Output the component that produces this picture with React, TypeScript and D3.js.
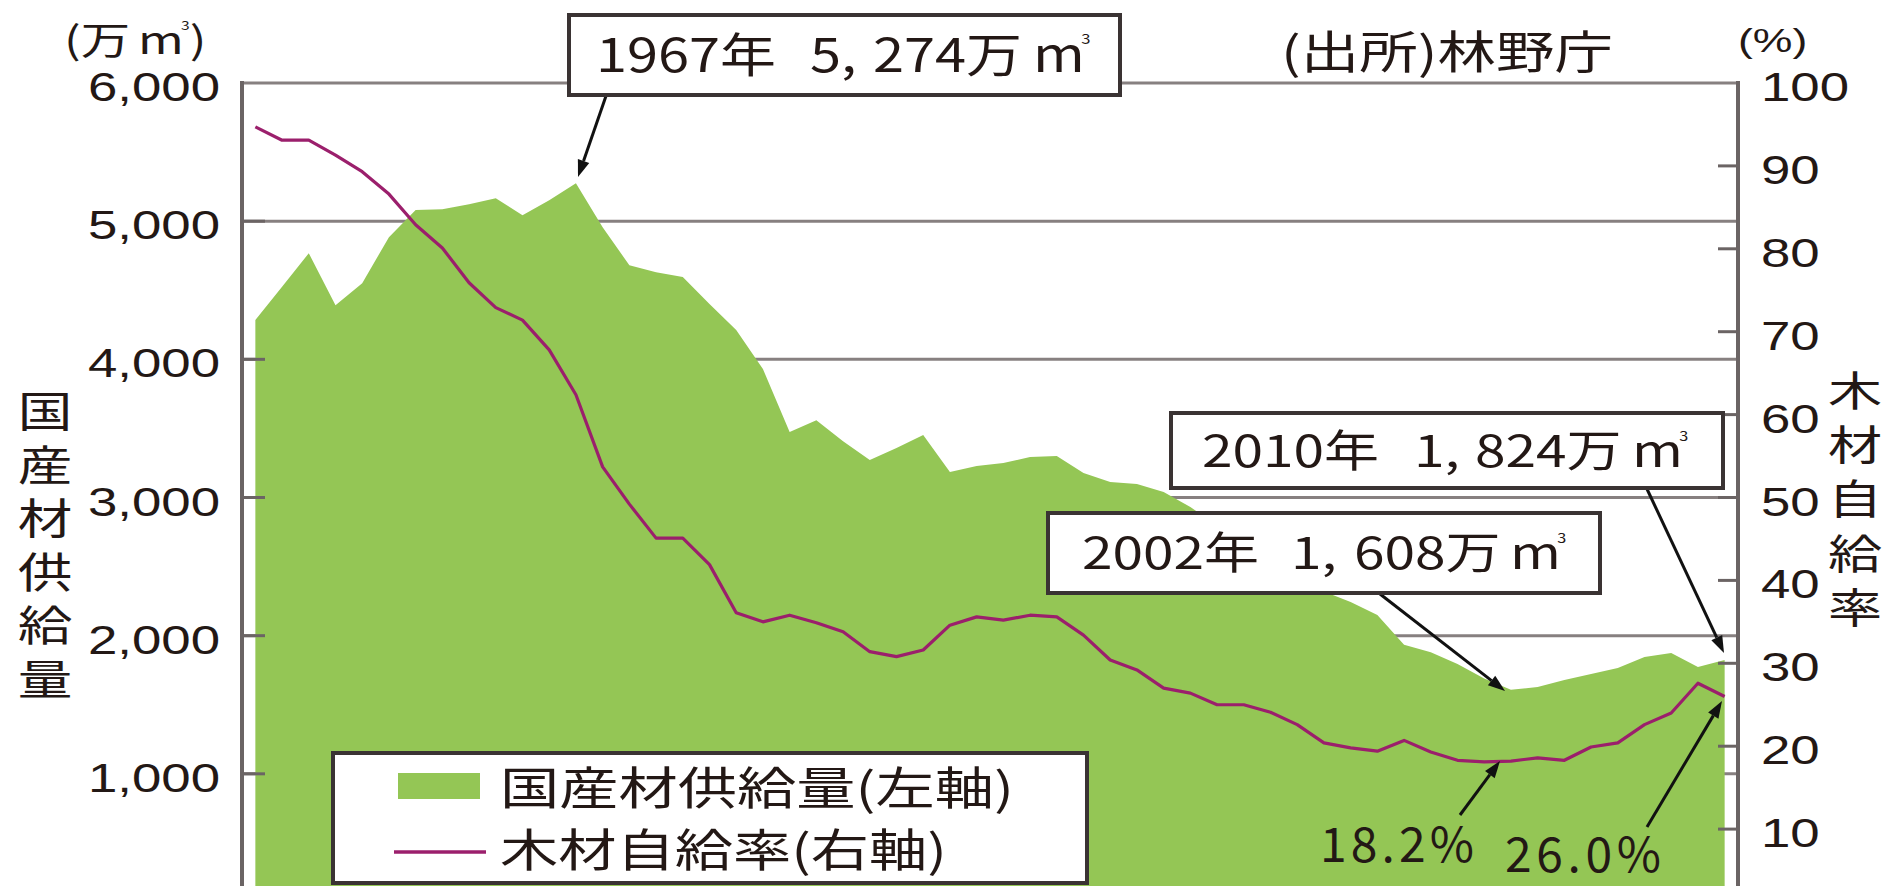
import React from "react";
import * as d3 from "d3";

// ---- data ----
const years = [
  1955, 1956, 1957, 1958, 1959, 1960, 1961, 1962, 1963, 1964,
  1965, 1966, 1967, 1968, 1969, 1970, 1971, 1972, 1973, 1974,
  1975, 1976, 1977, 1978, 1979, 1980, 1981, 1982, 1983, 1984,
  1985, 1986, 1987, 1988, 1989, 1990, 1991, 1992, 1993, 1994,
  1995, 1996, 1997, 1998, 1999, 2000, 2001, 2002, 2003, 2004,
  2005, 2006, 2007, 2008, 2009, 2010,
];

// 国産材供給量 (万m3)
const supply = [
  4284, 4526, 4768, 4392, 4551, 4884, 5080, 5087, 5123, 5166,
  5043, 5152, 5274, 4956, 4681, 4631, 4595, 4400, 4212, 3930,
  3474, 3560, 3408, 3271, 3358, 3452, 3184, 3228, 3250, 3293,
  3300, 3177, 3112, 3098, 3040, 2931, 2800, 2720, 2660, 2500,
  2320, 2244, 2150, 1935, 1880, 1795, 1690, 1608, 1628, 1680,
  1722, 1766, 1845, 1874, 1773, 1824,
];

// 木材自給率 (%)
const selfRate = [
  94.7, 93.1, 93.1, 91.3, 89.3, 86.6, 82.9, 80.1, 75.9, 72.9,
  71.4, 67.8, 62.4, 53.7, 49.2, 45.1, 45.1, 41.9, 36.1, 35.0,
  35.8, 34.9, 33.8, 31.4, 30.8, 31.6, 34.6, 35.6, 35.2, 35.8,
  35.6, 33.4, 30.4, 29.2, 27.0, 26.4, 25.0, 25.0, 24.1, 22.6,
  20.4, 19.8, 19.4, 20.7, 19.3, 18.3, 18.1, 18.2, 18.6, 18.3,
  19.9, 20.4, 22.6, 24.0, 27.6, 26.0,
];

const leftTicks = [1000, 2000, 3000, 4000, 5000, 6000];
const rightTicks = [10, 20, 30, 40, 50, 60, 70, 80, 90, 100];
const leftTitle = "国産材供給量";
const rightTitle = "木材自給率";

const W = 1895;
const H = 886;
const GREEN = "#94c655";
const PURPLE = "#9b1f6c";
const INK = "#231815";
const GRID = "#878080";
const AXIS = "#6b6464";
const JP = "'Noto Sans CJK JP', 'Noto Sans', sans-serif";
const LAT = "'Liberation Sans', Arial, sans-serif";

const x = d3.scalePoint<number>().domain(years).range([242, 1738]).padding(0.5);
const yL = d3.scaleLinear().domain([0, 6000]).range([912, 83]);
const yR = d3.scaleLinear().domain([0, 100]).range([912, 83]);
const fmt = d3.format(",");

function Arrow({ x1, y1, x2, y2 }: { x1: number; y1: number; x2: number; y2: number }) {
  const a = Math.atan2(y2 - y1, x2 - x1);
  const L = 17;
  const hw = 6;
  const bx = x2 - L * Math.cos(a);
  const by = y2 - L * Math.sin(a);
  const px = -Math.sin(a) * hw;
  const py = Math.cos(a) * hw;
  return (
    <g>
      <line x1={x1} y1={y1} x2={bx} y2={by} stroke="#111" strokeWidth={3} />
      <polygon points={`${x2},${y2} ${bx + px},${by + py} ${bx - px},${by - py}`} fill="#111" />
    </g>
  );
}

function Box({ x0, y0, x1, y1 }: { x0: number; y0: number; x1: number; y1: number }) {
  return (
    <rect x={x0} y={y0} width={x1 - x0} height={y1 - y0} fill="#fff" stroke="#3a3333" strokeWidth={4} />
  );
}

export default function App() {
  const areaPath = d3
    .area<number>()
    .x((_, i) => x(years[i])!)
    .y0(yL(0))
    .y1((d) => yL(d))(supply)!;
  const linePath = d3
    .line<number>()
    .x((_, i) => x(years[i])!)
    .y((d) => yR(d))(selfRate)!;

  const sx1 = 1.19;
  const sx2 = 1.25;

  return (
    <svg width={W} height={H} style={{ position: "absolute", left: 0, top: 0, background: "#fff" }}>
      {/* gridlines */}
      {leftTicks.map((t) => (
        <line key={"g" + t} x1={242} x2={1738} y1={yL(t)} y2={yL(t)} stroke={GRID} strokeWidth={3} />
      ))}
      {/* area */}
      <path d={areaPath} fill={GREEN} />
      {/* axes */}
      <line x1={242} x2={242} y1={81} y2={H} stroke={AXIS} strokeWidth={4} />
      <line x1={1738} x2={1738} y1={81} y2={H} stroke={AXIS} strokeWidth={4} />
      {leftTicks.slice(0, 5).map((t) => (
        <line key={"lt" + t} x1={242} x2={265} y1={yL(t)} y2={yL(t)} stroke={AXIS} strokeWidth={3} />
      ))}
      {rightTicks.slice(0, 9).map((t) => (
        <line key={"rt" + t} x1={1718} x2={1738} y1={yR(t)} y2={yR(t)} stroke={AXIS} strokeWidth={3} />
      ))}
      {/* line */}
      <path d={linePath} fill="none" stroke={PURPLE} strokeWidth={3.2} strokeLinejoin="round" />

      {/* tick labels */}
      {leftTicks.map((t) => (
        <text
          key={"ll" + t}
          transform={`translate(220,${yL(t) + 18}) scale(1.32,1)`}
          textAnchor="end"
          fontFamily={LAT}
          fontSize={40}
          fill={INK}
        >
          {fmt(t)}
        </text>
      ))}
      {rightTicks.map((t) => (
        <text
          key={"rl" + t}
          transform={`translate(1761,${yR(t) + 18}) scale(1.32,1)`}
          textAnchor="start"
          fontFamily={LAT}
          fontSize={40}
          fill={INK}
        >
          {t}
        </text>
      ))}

      {/* unit labels */}
      <text transform="translate(64,54) scale(1.3,1)" fontFamily={JP} fontSize={38} fill={INK}>
        (万<tspan dx={6}>m</tspan>
        <tspan fontSize={12} dx={-2} dy={-24}>3</tspan>
        <tspan dy={24}>)</tspan>
      </text>
      <text transform="translate(1738,52) scale(1.35,1)" fontFamily={LAT} fontSize={33} fill={INK}>
        (%)
      </text>
      <text transform="translate(1281,69) scale(1.3,1)" fontFamily={JP} fontSize={45} fill={INK}>
        (出所)林野庁
      </text>

      {/* axis titles (vertical) */}
      <text
        transform="translate(45,390) scale(1.3,1)"
        style={{ writingMode: "vertical-rl" }}
        fontFamily={JP}
        fontSize={42}
        letterSpacing={11.6}
        fill={INK}
      >
        {leftTitle}
      </text>
      <text
        transform="translate(1855,370) scale(1.32,1)"
        style={{ writingMode: "vertical-rl" }}
        fontFamily={JP}
        fontSize={41}
        letterSpacing={13.2}
        fill={INK}
      >
        {rightTitle}
      </text>

      {/* annotation 1967 */}
      <Arrow x1={606} y1={96} x2={578} y2={177} />
      <Box x0={569} y0={15} x1={1120} y1={95} />
      <text transform={`scale(${sx1},1)`} fontFamily={JP} fontSize={47} fill={INK}>
        <tspan x={596 / sx1} y={72}>1967年</tspan>
        <tspan x={810 / sx1}>5,</tspan>
        <tspan x={873 / sx1}>274万</tspan>
        <tspan x={1033 / sx1}>m</tspan>
        <tspan fontSize={14} dx={-3} dy={-28}>3</tspan>
      </text>

      {/* annotation 2010 */}
      <Arrow x1={1647} y1={489} x2={1724} y2={653} />
      <Box x0={1171} y0={413} x1={1723} y1={488} />
      <text transform={`scale(${sx2},1)`} fontFamily={JP} fontSize={44} fill={INK}>
        <tspan x={1202 / sx2} y={467}>2010年</tspan>
        <tspan x={1414 / sx2}>1,</tspan>
        <tspan x={1475 / sx2}>824万</tspan>
        <tspan x={1632 / sx2}>m</tspan>
        <tspan fontSize={13} dx={-3} dy={-26}>3</tspan>
      </text>

      {/* annotation 2002 */}
      <Arrow x1={1380} y1={594} x2={1505} y2={691} />
      <Box x0={1048} y0={513} x1={1600} y1={593} />
      <text transform={`scale(${sx2},1)`} fontFamily={JP} fontSize={44} fill={INK}>
        <tspan x={1082 / sx2} y={569}>2002年</tspan>
        <tspan x={1291 / sx2}>1,</tspan>
        <tspan x={1354 / sx2}>608万</tspan>
        <tspan x={1510 / sx2}>m</tspan>
        <tspan fontSize={13} dx={-3} dy={-26}>3</tspan>
      </text>

      {/* percent labels */}
      <Arrow x1={1460} y1={815} x2={1500} y2={761} />
      <text x={1320} y={862} fontFamily={JP} fontSize={48} fill={INK} textLength={154} lengthAdjust="spacing">
        18.2%
      </text>
      <Arrow x1={1647} y1={827} x2={1722} y2={701} />
      <text x={1505} y={872} fontFamily={JP} fontSize={48} fill={INK} textLength={156} lengthAdjust="spacing">
        26.0%
      </text>

      {/* legend */}
      <rect x={333} y={753} width={754} height={130} fill="#fff" stroke="#3a3333" strokeWidth={4} />
      <rect x={398} y={773} width={82} height={26} fill={GREEN} />
      <line x1={394} x2={486} y1={852} y2={852} stroke={PURPLE} strokeWidth={3.5} />
      <text x={500} y={805} fontFamily={JP} fontSize={45} fill={INK} textLength={514} lengthAdjust="spacingAndGlyphs">
        国産材供給量(左軸)
      </text>
      <text x={500} y={867} fontFamily={JP} fontSize={45} fill={INK} textLength={447} lengthAdjust="spacingAndGlyphs">
        木材自給率(右軸)
      </text>
    </svg>
  );
}
